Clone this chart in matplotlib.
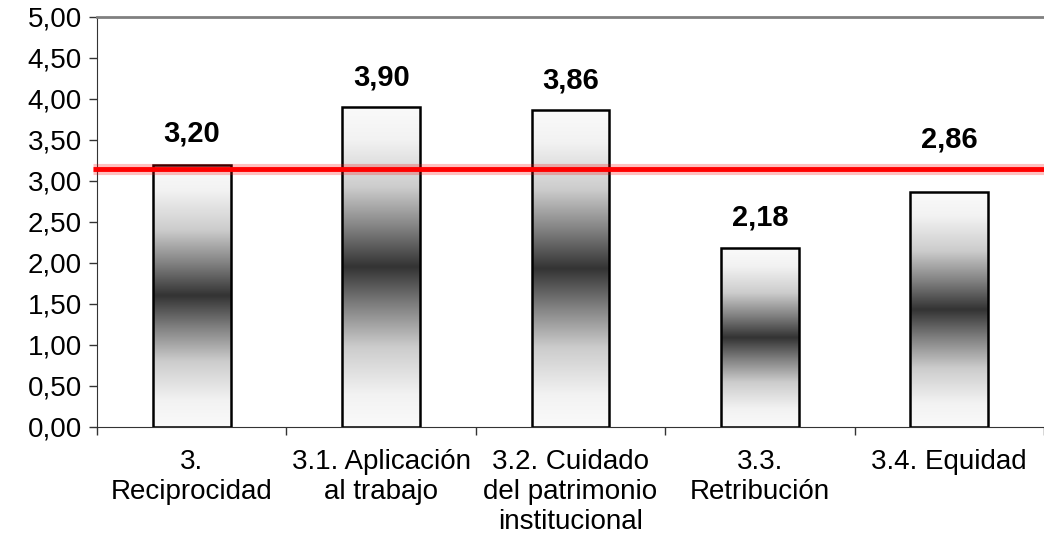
import numpy as np
import matplotlib
matplotlib.use("Agg")
import matplotlib.pyplot as plt
from matplotlib.colors import LinearSegmentedColormap
import matplotlib.transforms as mtransforms

categories = ["3.\nReciprocidad", "3.1. Aplicación\nal trabajo", "3.2. Cuidado\ndel patrimonio\ninstitucional",
              "3.3.\nRetribución", "3.4. Equidad"]
values = [3.20, 3.90, 3.86, 2.18, 2.86]
label_offsets = [0.38, 0.36, 0.36, 0.37, 0.64]
reference = 3.15
yticks = np.arange(0, 5.01, 0.5)

plt.rcParams['font.family'] = ['Liberation Sans', 'DejaVu Sans']

fig = plt.figure(figsize=(10.44, 5.39), dpi=100)
ax = fig.add_axes([0.093, 0.2078, 0.907, 0.7607])

x = np.arange(len(values))
width = 0.41

cmap = LinearSegmentedColormap.from_list(
    "g", [(0.0, (0.98, 0.98, 0.98)), (0.1, (0.95, 0.95, 0.95)), (0.25, (0.80, 0.80, 0.80)),
          (0.38, (0.50, 0.50, 0.50)), (0.5, (0.20, 0.20, 0.20)), (0.62, (0.50, 0.50, 0.50)),
          (0.75, (0.80, 0.80, 0.80)), (0.9, (0.95, 0.95, 0.95)), (1.0, (0.98, 0.98, 0.98))])
grad = np.linspace(0, 1, 256).reshape(-1, 1)

bars = ax.bar(x, values, width=width, facecolor='none', edgecolor='black', linewidth=1.8, zorder=3)
for b in bars:
    x0, y0 = b.get_x(), b.get_y()
    w, h = b.get_width(), b.get_height()
    im = ax.imshow(grad, cmap=cmap, aspect='auto', extent=[x0, x0 + w, y0, y0 + h],
                   origin='upper', zorder=2, interpolation='bilinear')
    im.set_clip_path(b)

for xi, v, off in zip(x, values, label_offsets):
    ax.text(xi, v + off, f"{v:.2f}".replace('.', ','), ha='center', va='center',
            fontsize=21, fontweight='bold', zorder=5)

trans = mtransforms.blended_transform_factory(ax.transAxes, ax.transData)
ax.plot([-0.004, 1.0], [reference, reference], transform=trans, color='#ff0000', alpha=0.25,
        linewidth=8, solid_capstyle='butt', clip_on=False, zorder=4)
ax.plot([-0.004, 1.0], [reference, reference], transform=trans, color='#ff0000',
        linewidth=3.5, solid_capstyle='butt', clip_on=False, zorder=4)

ax.set_xlim(-0.5, len(values) - 0.5)
ax.set_ylim(0, 5)
ax.set_yticks(yticks)
ax.set_yticklabels([f"{t:.2f}".replace('.', ',') for t in yticks], fontsize=20)
ax.set_xticks(x)
ax.set_xticklabels(categories, fontsize=20, linespacing=1.2)
ax.set_xticks(np.arange(-0.5, len(values), 1.0), minor=True)
ax.tick_params(axis='x', which='major', length=0, pad=16)
ax.tick_params(axis='x', which='minor', length=6, width=1, color='#333333')
ax.tick_params(axis='y', length=6, width=1, color='#333333', pad=5)

ax.spines['right'].set_visible(False)
ax.spines['top'].set_color('#808080')
ax.spines['top'].set_linewidth(2)
ax.spines['left'].set_color('#333333')
ax.spines['bottom'].set_color('#333333')

fig.savefig("out.png", dpi=100)
